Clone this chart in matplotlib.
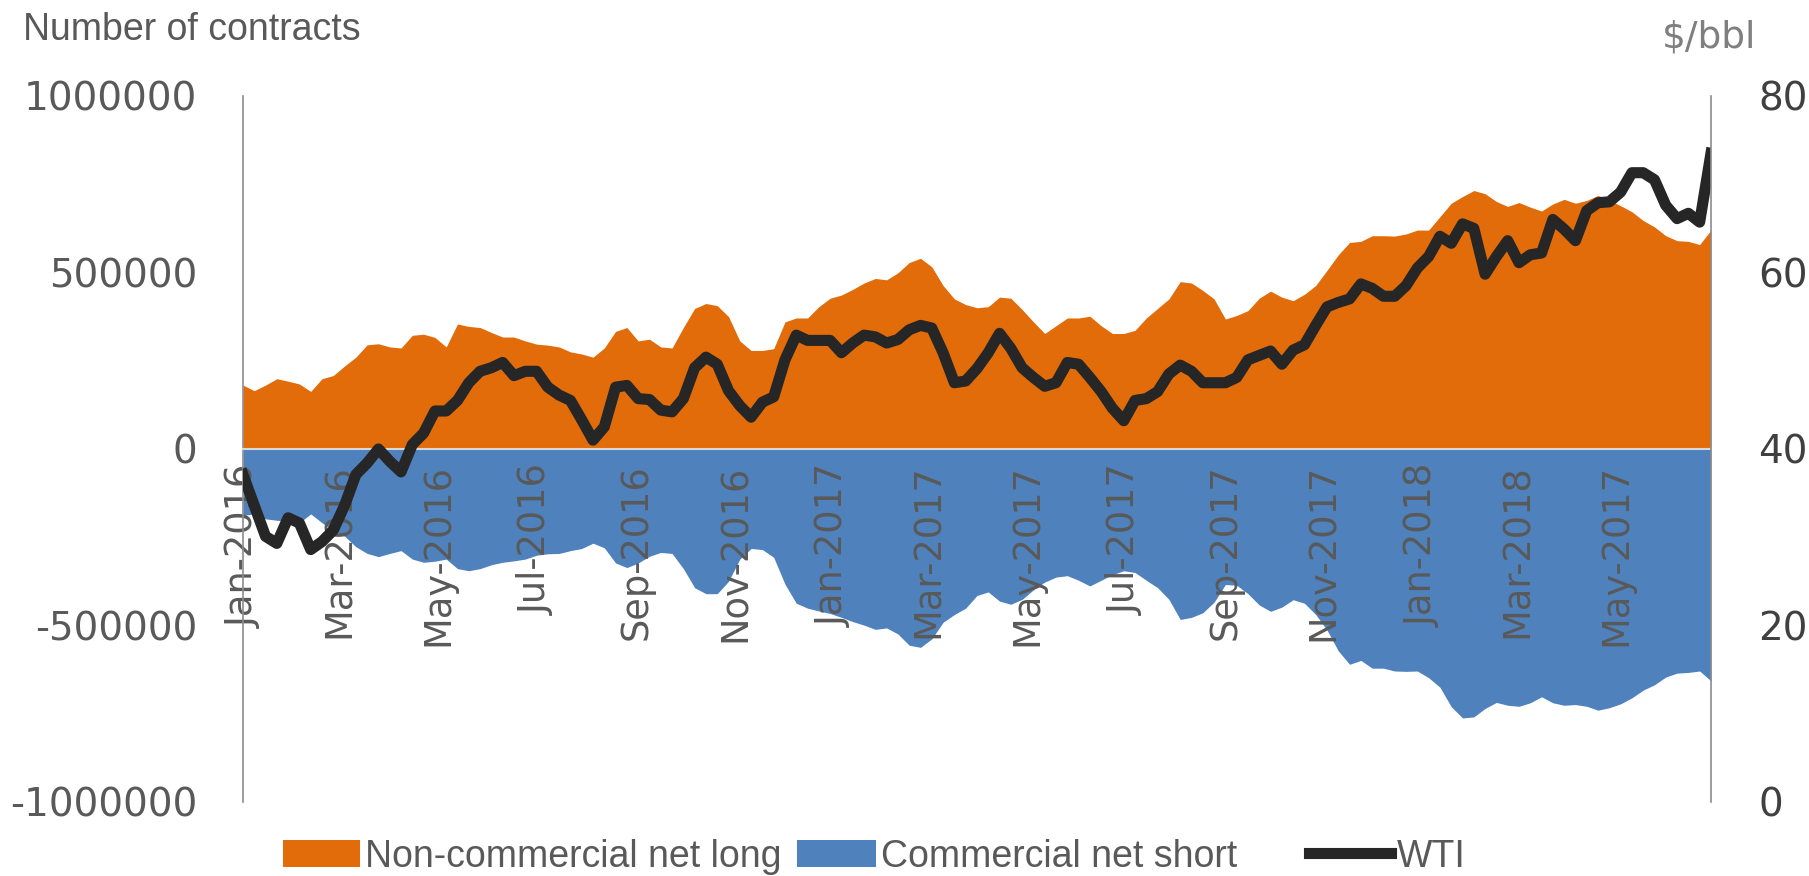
import pandas as pd
import matplotlib.pyplot as plt
from matplotlib.patches import Patch
from matplotlib.lines import Line2D

plt.rcParams["axes.unicode_minus"] = False

# weekly positioning data, Jan 2016 - Jun 2018
dates = pd.date_range("2016-01-01", periods=131, freq="7D")

non_commercial_long = [
    181000, 165000, 181000, 199000, 192000, 184000, 163000, 199000, 208000, 235000, 260000, 295000,
    298000, 289000, 286000, 322000, 325000, 316000, 289000, 354000, 347000, 344000, 330000,
    317000, 317000, 306000, 297000, 294000, 289000, 275000, 269000, 260000, 286000, 333000, 344000,
    306000, 311000, 289000, 286000, 344000, 398000, 412000, 406000, 375000,
    306000, 279000, 279000, 284000, 360000, 371000, 371000, 403000, 427000, 436000, 452000, 470000,
    483000, 479000, 499000, 528000, 540000, 516000, 463000, 425000, 409000, 400000,
    403000, 430000, 427000, 395000, 360000, 327000, 349000, 371000, 371000, 376000, 349000, 327000,
    327000, 336000, 371000, 398000, 425000, 474000, 470000, 449000, 425000, 368000,
    378000, 392000, 427000, 447000, 430000, 420000, 438000, 463000, 506000, 550000, 585000, 588000,
    604000, 604000, 603000, 609000, 620000, 620000, 658000, 696000, 715000,
    732000, 723000, 701000, 687000, 698000, 685000, 674000, 694000, 707000, 696000, 704000, 718000,
    705000, 689000, 672000, 647000, 629000, 604000, 590000, 588000, 579000, 620000,
]

commercial_short = [
    -188000, -184000, -198000, -202000, -204000, -209000, -184000, -209000, -231000, -247000, -277000,
    -296000, -305000, -296000, -288000, -312000, -321000, -318000, -312000, -339000, -345000, -339000,
    -328000,
    -321000, -317000, -312000, -301000, -297000, -296000, -288000, -282000, -267000, -280000, -323000,
    -336000, -323000, -304000, -293000, -296000, -339000, -393000, -410000, -410000, -375000,
    -312000, -282000, -285000, -307000, -383000, -437000, -451000, -459000, -466000, -477000, -489000,
    -499000, -511000, -507000, -524000, -556000, -562000, -538000, -491000, -469000, -451000, -415000,
    -405000, -431000, -440000, -426000, -399000, -377000, -363000, -359000, -372000, -388000, -372000,
    -356000, -345000, -350000, -372000, -393000, -426000, -483000, -477000, -464000, -434000, -384000,
    -386000, -410000, -442000, -460000, -448000, -427000, -437000, -469000, -513000, -572000, -610000,
    -599000, -621000, -621000, -629000, -630000, -629000, -648000, -675000, -730000, -762000,
    -759000, -735000, -718000, -726000, -729000, -719000, -702000, -719000, -726000, -724000, -729000,
    -740000, -733000, -722000, -705000, -683000, -668000, -646000, -635000, -633000, -629000, -657000,
]

wti = [
    37.1, 33.6, 30.1, 29.3, 32.2, 31.6, 28.6, 29.5, 30.8, 33.6, 37.1, 38.4, 40.0, 38.6, 37.4, 40.5,
    41.8, 44.3, 44.3, 45.5, 47.5, 48.8, 49.2,
    49.8, 48.3, 48.8, 48.8, 47.0, 46.1, 45.5, 43.3, 41.0, 42.5, 47.0, 47.2, 45.7, 45.6, 44.4, 44.2,
    45.7, 49.2, 50.4, 49.6, 46.6,
    44.9, 43.6, 45.3, 45.9, 50.1, 52.9, 52.3, 52.3, 52.3, 50.9, 52.0, 52.9, 52.7, 52.0, 52.4, 53.5,
    54.0, 53.7, 50.9, 47.5, 47.7, 49.1,
    50.9, 53.1, 51.4, 49.2, 48.1, 47.1, 47.5, 49.8, 49.6, 48.1, 46.5, 44.6, 43.2, 45.5, 45.7, 46.5,
    48.5, 49.5, 48.8, 47.5, 47.5, 47.5,
    48.1, 50.1, 50.6, 51.1, 49.6, 51.2, 51.8, 54.0, 56.1, 56.6, 57.0, 58.7, 58.2, 57.3, 57.3, 58.5,
    60.5, 61.8, 64.1, 63.3, 65.5,
    65.0, 59.8, 61.8, 63.6, 61.1, 62.0, 62.2, 66.0, 64.9, 63.6, 67.0, 67.9, 68.0, 69.1, 71.3, 71.3,
    70.5, 67.6, 66.1, 66.7, 65.7, 73.5,
]

tick_dates = pd.date_range("2016-01-01", periods=15, freq="2MS")
tick_labels = [
    "Jan-2016", "Mar-2016", "May-2016", "Jul-2016", "Sep-2016", "Nov-2016",
    "Jan-2017", "Mar-2017", "May-2017", "Jul-2017", "Sep-2017", "Nov-2017",
    "Jan-2018", "Mar-2018", "May-2017",
]
left_ticks = [-1000000, -500000, 0, 500000, 1000000]
right_ticks = [0, 20, 40, 60, 80]

ORANGE = "#E36C0A"
BLUE = "#4F81BD"
LINE = "#262626"
GREY = "#595959"

fig = plt.figure(figsize=(18.09, 8.76), dpi=100)
ax = fig.add_axes([0.1343, 0.0845, 0.8115, 0.806])
ax2 = ax.twinx()

ax.fill_between(dates, 0, non_commercial_long, color=ORANGE, lw=0)
ax.fill_between(dates, 0, commercial_short, color=BLUE, lw=0)

ax.set_xlim(dates[0], dates[-1])
ax.set_ylim(-1000000, 1000000)
ax.set_yticks(left_ticks)
ax.set_yticklabels([str(v) for v in left_ticks])
ax.set_xticks(tick_dates)
ax.set_xticklabels(tick_labels, family="Liberation Sans")

ax.spines["bottom"].set_position(("data", 0))
ax.spines["bottom"].set_color("#d9d9d9")
ax.spines["bottom"].set_linewidth(1.5)
ax.spines["top"].set_visible(False)
ax.spines["right"].set_visible(False)
ax.spines["left"].set_color("#8c8c8c")
ax.spines["left"].set_linewidth(1.2)
ax.tick_params(axis="x", length=0, pad=11, labelsize=26.5, labelcolor=GREY, labelrotation=90)
ax.tick_params(axis="y", length=0, pad=33, labelsize=28, labelcolor=GREY)

# WTI price on the right axis
ax2.plot(dates, wti, color=LINE, lw=8, solid_joinstyle="round")
ax2.set_ylim(0, 80)
ax2.set_yticks(right_ticks)
for side in ["top", "bottom", "left"]:
    ax2.spines[side].set_visible(False)
ax2.spines["right"].set_color("#8c8c8c")
ax2.spines["right"].set_linewidth(1.2)
ax2.tick_params(axis="y", length=0, pad=34, labelsize=28, labelcolor="#404040")

fig.text(0.0127, 0.954, "Number of contracts", fontsize=27, color=GREY,
         family="Liberation Sans", va="baseline")
fig.text(0.9707, 0.946, "$/bbl", fontsize=27, color="#7f7f7f", ha="right", va="baseline")

# legend entries spaced like the original (equal-width columns)
legend_font = {"family": "Liberation Sans", "size": 27}
entries = [
    (Patch(facecolor=ORANGE, edgecolor="none"), "Non-commercial net long", 0.1564, 2.05),
    (Patch(facecolor=BLUE, edgecolor="none"), "Commercial net short", 0.4406, 2.1),
    (Line2D([], [], color=LINE, lw=8), "WTI", 0.7236, 2.2),
]
for handle, label, xpos, hl in entries:
    fig.legend([handle], [label], loc="center left", bbox_to_anchor=(xpos, 0.022),
               frameon=False, prop=legend_font, labelcolor=GREY, borderpad=0,
               borderaxespad=0, handlelength=hl, handleheight=0.72, handletextpad=0.15)

fig.savefig("out.png", dpi=100)
